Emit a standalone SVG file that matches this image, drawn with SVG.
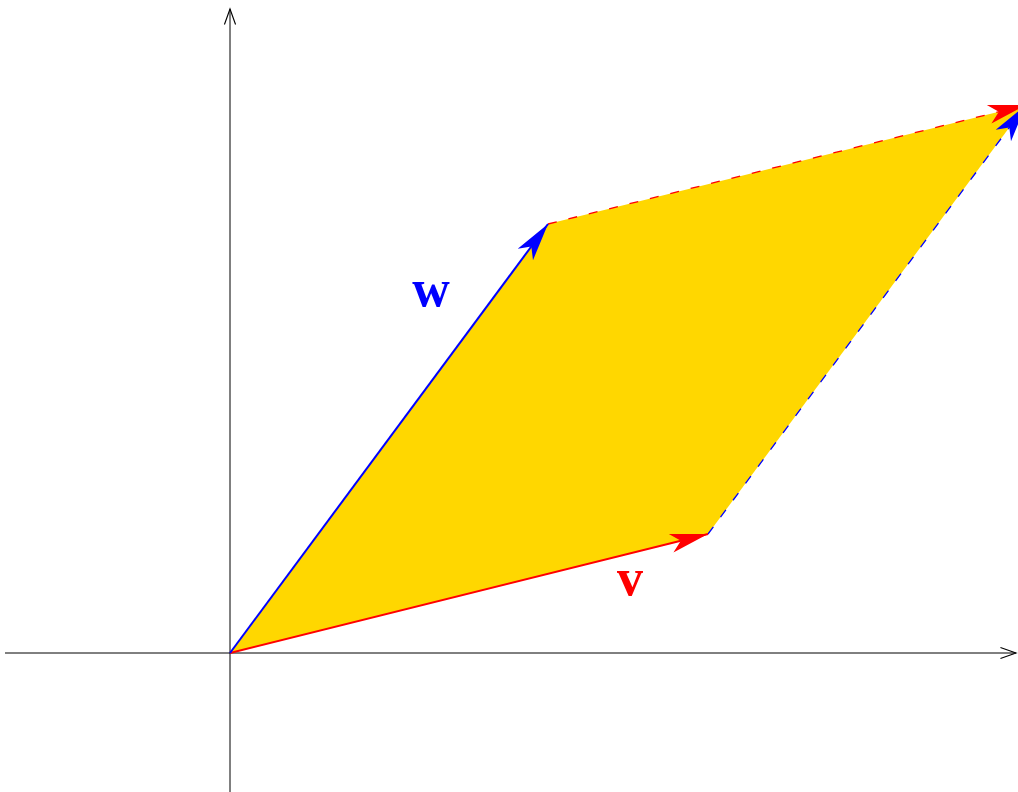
<svg xmlns="http://www.w3.org/2000/svg" width="1018" height="792" viewBox="0 0 1018 792">
<style>
.axis{stroke:#000;stroke-width:1;fill:none}
.vec{stroke-width:2;fill:none}
.dash{stroke-width:1.3;fill:none;stroke-dasharray:9 12}
.lbl{font-family:"Liberation Serif","Times New Roman",serif;font-weight:bold;font-size:52px;text-anchor:middle}
</style>
<defs>
<marker id="open" markerUnits="userSpaceOnUse" markerWidth="20" markerHeight="20" viewBox="-16 -8 18 16" refX="0" refY="0" orient="auto">
<path d="M-14,-5 L0,0 L-14,5" fill="none" stroke="#000" stroke-width="1"/>
</marker>
<marker id="redHead" markerUnits="userSpaceOnUse" markerWidth="44" markerHeight="24" viewBox="-40 -12 42 24" refX="0" refY="0" orient="auto">
<path d="M0,0 L-38,-9.5 L-28,0 L-38,9.5 Z" fill="#ff0000"/>
</marker>
<marker id="blueHead" markerUnits="userSpaceOnUse" markerWidth="44" markerHeight="24" viewBox="-40 -12 42 24" refX="0" refY="0" orient="auto">
<path d="M0,0 L-38,-9.5 L-28,0 L-38,9.5 Z" fill="#0000ff"/>
</marker>
</defs>
<g id="parallelogram">
<polygon points="230,653 708,534 1026,105 548,224" fill="#ffd700"/>
</g>
<g id="connectors">
<line class="axis" x1="5" y1="653" x2="1016" y2="653" marker-end="url(#open)"/>
<line class="axis" x1="230" y1="792" x2="230" y2="9" marker-end="url(#open)"/>
<line class="dash" stroke="#ff0000" x1="548" y1="224" x2="1026" y2="105" marker-end="url(#redHead)"/>
<line class="dash" stroke="#0000ff" stroke-dasharray="7 10" x1="708" y1="534" x2="1026" y2="105" marker-end="url(#blueHead)"/>
<line class="vec" stroke="#ff0000" x1="230" y1="653" x2="708" y2="534" marker-end="url(#redHead)"/>
<line class="vec" stroke="#0000ff" x1="230" y1="653" x2="548" y2="224" marker-end="url(#blueHead)"/>
</g>
<g id="label-w">
<text class="lbl" x="431" y="306" fill="#0000ff">w</text>
</g>
<g id="label-v">
<text class="lbl" x="630" y="595" fill="#ff0000">v</text>
</g>
</svg>
